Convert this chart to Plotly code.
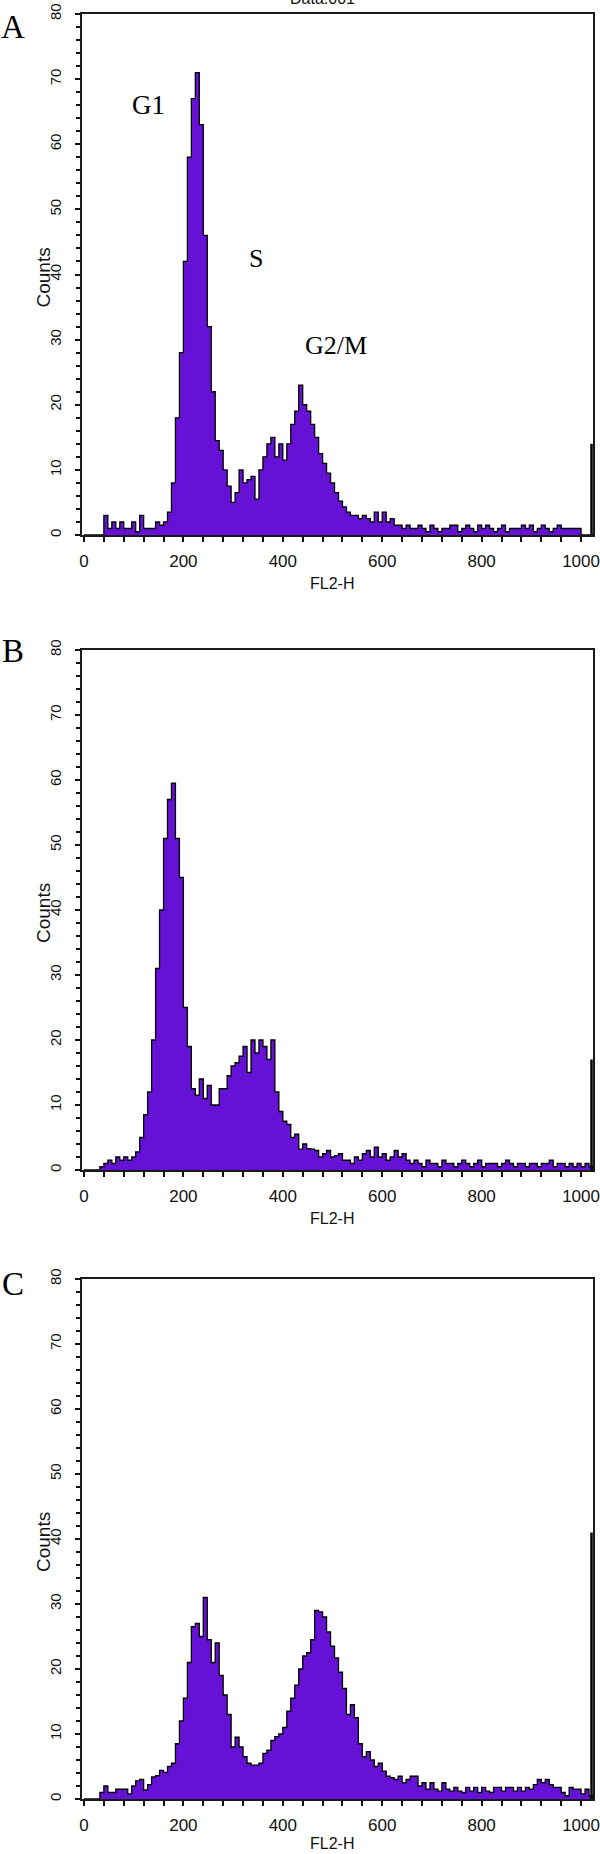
import plotly.graph_objects as go

# ---------------- data ----------------
BIN_WIDTH = 8
CHANNELS = list(range(0, 1024, BIN_WIDTH))      # FL2-H channel bins (bin start)
END_CHANNEL = 1024
OVERFLOW_CHANNEL = 1021                          # last channel (off-scale events)

COUNTS_A = [
    0, 0, 0, 0, 0, 3, 1, 2,
    1, 2, 1, 1, 2, 0.5, 3, 1,
    1, 1, 2, 1.5, 2, 3.5, 8, 18,
    28, 42, 58, 67, 71, 63, 46, 32,
    22, 14.5, 13, 10, 7.5, 5, 6.5, 10,
    8, 8.5, 9, 5.5, 10, 12, 14, 15,
    12, 14, 11.5, 14, 17, 19, 23, 20,
    19, 17, 15, 12.5, 11, 9.5, 8, 6.5,
    5.2, 4.3, 3.5, 3, 3, 2.5, 3, 2.5,
    2, 3.5, 2, 3.5, 2, 2.5, 1.5, 1.5,
    1, 1.5, 1, 1, 1.5, 1, 0.5, 1.5,
    1, 0.5, 1, 1, 1.5, 1.5, 0.5, 1,
    1.5, 1, 0.5, 1.5, 1, 1.5, 1, 0.5,
    1, 1.5, 0.5, 1, 1, 1, 1.5, 1,
    1.5, 0.5, 1, 1.5, 1, 0.5, 1, 1.5,
    1, 1, 1, 1, 1, 0, 0, 0,
]
COUNTS_B = [
    0, 0, 0, 0, 0.5, 1, 1.5, 1,
    2, 1.5, 2, 1.5, 2, 2.8, 5, 8.5,
    12, 20, 31, 40, 51, 57, 59.5, 51,
    45, 25, 19, 12.5, 11.5, 14, 11, 13,
    10, 10, 12.5, 12.5, 14.5, 16, 16.5, 17.5,
    19, 15, 20, 18, 20, 19, 17, 20,
    12, 9, 7.5, 7, 5, 5.5, 3.2, 4,
    3.3, 3.2, 3, 2, 2.5, 3, 2, 2.2,
    2.5, 1.5, 1.5, 1, 2, 1.5, 2.5, 3,
    2, 3.5, 2, 2.5, 1.5, 2, 3, 2,
    2.5, 1.5, 1, 1.5, 1, 0.5, 1.5, 1,
    1, 0.5, 1.5, 1, 1, 0.5, 1, 1.5,
    1, 0.5, 1, 1.5, 0.5, 1, 1, 1,
    0.5, 1, 1.5, 1, 0.5, 1, 1, 0.5,
    1, 1, 0.5, 1, 1, 1.5, 0.5, 1,
    1, 0.5, 1, 0.5, 1, 0.5, 1, 0.5,
]
COUNTS_C = [
    0, 0, 0, 0, 1, 2, 1, 1,
    1.5, 1.5, 1.5, 0.8, 2, 2.8, 3, 1.4,
    2.2, 3.4, 3.6, 4.4, 4.1, 5, 5.5, 8.5,
    12, 15.5, 21, 26.5, 27, 25, 31, 24.5,
    21, 24, 19, 16, 13, 8, 9.5, 8,
    6.5, 5.5, 5.2, 5.2, 5.5, 7, 7.5, 9,
    9.6, 10, 11, 13.5, 15.5, 17.5, 20, 22,
    22.5, 24.5, 29, 28.8, 28, 25.7, 23.5, 21.7,
    19.5, 17, 13, 14.5, 12.5, 8.5, 6.5, 7.3,
    6, 5, 5.5, 4.3, 3.5, 3.3, 3, 3.5,
    2.5, 3, 3.5, 3.5, 2, 2.5, 1.5, 2.5,
    1.5, 1.2, 2.5, 1.5, 1.2, 1.8, 1.2, 1,
    1.8, 1.2, 1.8, 1, 1.8, 1.2, 1, 1.8,
    1.8, 1.2, 1.8, 1.8, 1.2, 1.8, 1.2, 1.8,
    1.5, 2.2, 3, 2.5, 3, 2.2, 1.8, 1.8,
    1, 0.5, 1.8, 1.5, 1.5, 0.8, 1.5, 0.5,
]
OVERFLOW = {"A": 14, "B": 17, "C": 41}

PANEL_LABELS = ["A", "B", "C"]
PHASE_LABELS = ["G1", "S", "G2/M"]
X_TITLE = "FL2-H"
Y_TITLE = "Counts"
TOP_TITLE = "Data.001"

# ---------------- layout / style ----------------
W, H = 600, 1854
FILL = "#6612D6"
X_LEFT, X_RIGHT = 82, 593
PANELS = [  # (top px, bottom px)
    (14, 535),
    (650, 1170),
    (1279, 1799),
]
XTITLE_OFFSET = [48, 48, 44]
SANS = "Liberation Sans, Arial, sans-serif"
SERIF = "Liberation Serif, Times New Roman, serif"


def px(x):
    return x / W


def py(y):
    return 1 - y / H


fig = go.Figure()
series = [COUNTS_A, COUNTS_B, COUNTS_C]
for i, (vals, lab) in enumerate(zip(series, PANEL_LABELS)):
    xa = "x" if i == 0 else f"x{i+1}"
    ya = "y" if i == 0 else f"y{i+1}"
    fig.add_trace(go.Scatter(
        x=CHANNELS + [END_CHANNEL], y=vals + [vals[-1]],
        mode="lines", line=dict(shape="hv", color="black", width=1.3),
        fill="tozeroy", fillcolor=FILL, xaxis=xa, yaxis=ya,
        showlegend=False, hoverinfo="skip"))
    fig.add_trace(go.Scatter(
        x=[OVERFLOW_CHANNEL, OVERFLOW_CHANNEL], y=[0, OVERFLOW[lab]],
        mode="lines", line=dict(color="black", width=2.5),
        xaxis=xa, yaxis=ya, showlegend=False, hoverinfo="skip"))

    top, bot = PANELS[i]
    xkey = "xaxis" if i == 0 else f"xaxis{i+1}"
    ykey = "yaxis" if i == 0 else f"yaxis{i+1}"
    fig.update_layout(**{
        xkey: dict(
            domain=[px(X_LEFT), px(X_RIGHT)], anchor=ya, range=[-4, 1024],
            tickmode="linear", tick0=0, dtick=200,
            ticks="outside", ticklen=5, tickwidth=1.5, tickcolor="#111",
            minor=dict(dtick=40, tick0=0, ticks="outside", ticklen=5,
                       tickwidth=1.5, tickcolor="#111", showgrid=False),
            showline=True, linecolor="#1a1a1a", linewidth=2, mirror=True,
            showgrid=False, zeroline=False, automargin=False,
            tickfont=dict(family=SANS, size=17, color="#111"),
            ticklabelstandoff=5, ticklabeloverflow="allow", fixedrange=True),
        ykey: dict(
            domain=[py(bot), py(top)], anchor=xa, range=[0, 80],
            tickmode="linear", tick0=0, dtick=10,
            ticks="outside", ticklen=5, tickwidth=1.5, tickcolor="#111",
            minor=dict(dtick=2, tick0=0, ticks="outside", ticklen=4,
                       tickwidth=1.5, tickcolor="#111", showgrid=False),
            showline=True, linecolor="#1a1a1a", linewidth=2, mirror=True,
            showgrid=False, zeroline=False, tickangle=-90, automargin=False,
            tickfont=dict(family=SANS, size=15, color="#111"),
            ticklabelstandoff=8, ticklabeloverflow="allow", fixedrange=True),
    })

annotations = []
letter_y = [27, 651, 1284]
for i, lab in enumerate(PANEL_LABELS):
    top, bot = PANELS[i]
    annotations.append(dict(text=lab, x=px(13), y=py(letter_y[i]), xref="paper", yref="paper",
                            showarrow=False, xanchor="center", yanchor="middle",
                            font=dict(family=SERIF, size=33, color="black")))
    annotations.append(dict(text=Y_TITLE, x=px(43), y=py((top + bot) / 2 + 3), xref="paper", yref="paper",
                            showarrow=False, xanchor="center", yanchor="middle", textangle=-90,
                            font=dict(family=SANS, size=19, color="#111")))
    annotations.append(dict(text=X_TITLE, x=px(332), y=py(bot + XTITLE_OFFSET[i]), xref="paper", yref="paper",
                            showarrow=False, xanchor="center", yanchor="middle",
                            font=dict(family=SANS, size=16, color="#111")))

phase_pos = [(148, 105), (256, 258), (336, 345)]
phase_size = [27, 26, 26]
for t, (x, y), s in zip(PHASE_LABELS, phase_pos, phase_size):
    annotations.append(dict(text=t, x=px(x), y=py(y), xref="paper", yref="paper",
                            showarrow=False, xanchor="center", yanchor="middle",
                            font=dict(family=SERIF, size=s, color="black")))

annotations.append(dict(text=TOP_TITLE, x=px(322), y=py(9), xref="paper", yref="paper",
                        showarrow=False, xanchor="center", yanchor="bottom",
                        font=dict(family=SANS, size=16, color="#111")))

fig.update_layout(
    width=W, height=H, margin=dict(l=0, r=0, t=0, b=0, autoexpand=False),
    paper_bgcolor="white", plot_bgcolor="white",
    annotations=annotations, showlegend=False,
)

fig.write_html(
    "out.html",
    config={"displayModeBar": False},
    post_script="document.body.style.margin='0';document.body.style.overflow='hidden';",
)
